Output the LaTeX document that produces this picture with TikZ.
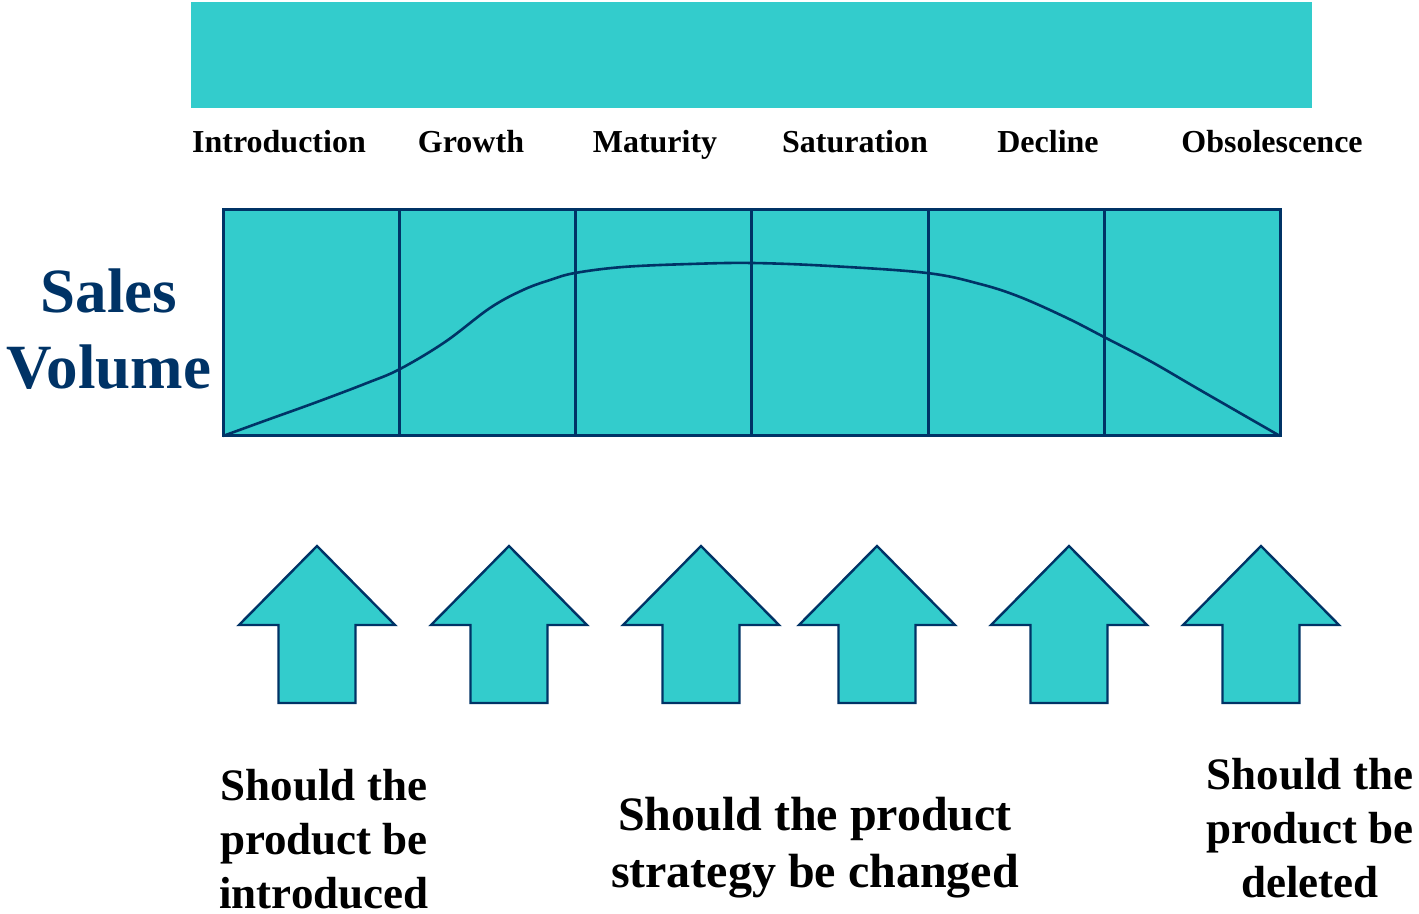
\documentclass[tikz,border=0pt]{standalone}
\usepackage{fontspec}
\setmainfont{Liberation Serif}
\definecolor{teal1}{HTML}{33CCCC}
\definecolor{navy1}{HTML}{003366}

\begin{document}
\begin{tikzpicture}[x=0.5pt,y=-0.5pt,
                    stage/.style={font=\fontsize{16}{19}\selectfont\bfseries,anchor=base},
                    question/.style={font=\fontsize{22.5}{27}\selectfont\bfseries,align=center},
                    chart/.style={fill=teal1,draw=navy1,line width=1.5pt},
                    uparrow/.style={fill=teal1,draw=navy1,line width=1.2pt}]
\useasboundingbox (0,0) rectangle (1419,914);

\fill[teal1] (191,2) rectangle (1312,108);

\node[stage] (intro) at (279,153) {Introduction};
\node[stage] (growth) at (471,153) {Growth};
\node[stage] (mat) at (655,153) {Maturity};
\node[stage] (sat) at (855,153) {Saturation};
\node[stage] (dec) at (1048,153) {Decline};
\node[stage] (obs) at (1272,153) {Obsolescence};

\node[font=\fontsize{31.5}{38}\selectfont\bfseries,text=navy1,align=center] (sales) at (109,329) {Sales\\Volume};

\draw[chart] (223,210) rectangle (1280,436);
\draw[navy1,line width=1.3pt] plot[smooth,tension=0.6] coordinates
  {(223,436) (267,420) (317,402) (367,383) (400,369) (445,342) (490,308) (523,290)
   (550,280) (575,273) (623,267) (690,264) (752,263) (830,266) (927,273) (980,284) (1020,297)
   (1067,318) (1104,337) (1150,361) (1200,390) (1280,436)};
\foreach \x in {399,575,751,928,1104}
  \draw[navy1,line width=1.5pt] (\x,210) -- (\x,436);

\foreach \x in {317,509,701,877,1069,1261}
  \draw[uparrow] (\x,546) -- ++(78,79) -- ++(-39.5,0) -- ++(0,78) -- ++(-77,0) -- ++(0,-78) -- ++(-39.5,0) -- cycle;

\node[question] (q1) at (324,839) {Should the\\product be\\introduced};
\node[question,font=\fontsize{24}{28.5}\selectfont\bfseries] (q2) at (815,848) {Should the product\\strategy be changed};
\node[question] (q3) at (1310,828) {Should the\\product be\\deleted};

\end{tikzpicture}
\end{document}
